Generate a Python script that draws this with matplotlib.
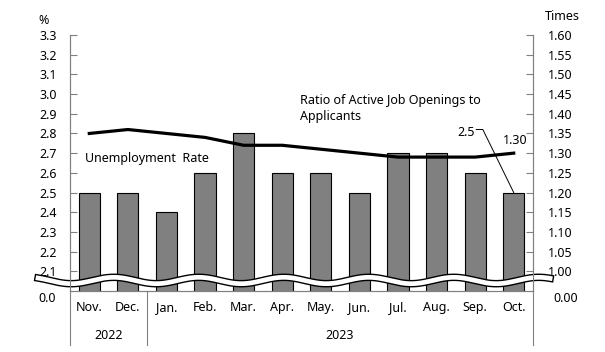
import numpy as np
import matplotlib.pyplot as plt
from matplotlib.lines import Line2D

months = ['Nov.', 'Dec.', 'Jan.', 'Feb.', 'Mar.', 'Apr.', 'May.', 'Jun.', 'Jul.', 'Aug.', 'Sep.', 'Oct.']
years = ['2022', '2023']
unemp = [2.5, 2.5, 2.4, 2.6, 2.8, 2.6, 2.6, 2.5, 2.7, 2.7, 2.6, 2.5]
ratio = [1.35, 1.36, 1.35, 1.34, 1.32, 1.32, 1.31, 1.30, 1.29, 1.29, 1.29, 1.30]
left_ticks = [2.1, 2.2, 2.3, 2.4, 2.5, 2.6, 2.7, 2.8, 2.9, 3.0, 3.1, 3.2, 3.3]
right_ticks = [1.00, 1.05, 1.10, 1.15, 1.20, 1.25, 1.30, 1.35, 1.40, 1.45, 1.50, 1.55, 1.60]

plt.rcParams['font.family'] = 'Noto Sans'
plt.rcParams['font.size'] = 9
gray = '#808080'

fig = plt.figure(figsize=(6.05, 3.52), dpi=100)
ax = fig.add_axes([70/605, 1 - 291/352, 463/605, 256/352])
x = np.arange(len(months))

ax.bar(x, unemp, width=0.55, bottom=0, color='#808080', edgecolor='black', linewidth=0.8, zorder=2)
ax.set_xlim(-0.5, len(months) - 0.5)
ax.set_ylim(2.0, 3.3)
ax.set_yticks(left_ticks)
ax.set_yticklabels(['%.1f' % v for v in left_ticks])
ax.set_xticks([])
ax.spines['top'].set_visible(False)
for s in ['left', 'right', 'bottom']:
    ax.spines[s].set_color(gray)
ax.tick_params(axis='y', direction='in', length=5, color=gray, pad=9.5)

ax2 = ax.twinx()
ax2.plot(x, ratio, color='black', lw=2.3, zorder=3)
ax2.set_ylim(0.95, 1.60)
ax2.set_yticks(right_ticks)
ax2.set_yticklabels(['%.2f' % v for v in right_ticks])
ax2.spines['top'].set_visible(False)
for s in ['left', 'right', 'bottom']:
    ax2.spines[s].set_color(gray)
ax2.tick_params(axis='y', direction='in', length=5, color=gray, pad=10.5)

# zero labels below the break
ax.text(-0.03, -0.028, '0.0', transform=ax.transAxes, ha='right', va='center')
ax2.text(1.045, -0.028, '0.00', transform=ax.transAxes, ha='left', va='center')

# axis break wave
xs = np.linspace(-0.069, 1.037, 400)
xpix = xs * 463
ys = (291 - 280.5 - 3.2 * np.sin(2 * np.pi * (xpix + 20) / 85)) / 256
for lw, c in [(5.4, 'black'), (3.4, 'white')]:
    ax.add_line(Line2D(xs, ys, transform=ax.transAxes, color=c, lw=lw, clip_on=False, zorder=5))

# category axis
for i, m in enumerate(months):
    ax.text(i, -0.066, m, transform=ax.get_xaxis_transform(), ha='center', va='center')
ax.text(0.5, -0.172, years[0], transform=ax.get_xaxis_transform(), ha='center', va='center')
ax.text(6.5, -0.172, years[1], transform=ax.get_xaxis_transform(), ha='center', va='center')
for xv in [0, 2 / 12, 1]:
    ax.add_line(Line2D([xv, xv], [0, -0.211], transform=ax.transAxes, color=gray, lw=0.8, clip_on=False))

# labels
ax.text(-0.11, 2.675, 'Unemployment  Rate', va='center', ha='left')
ax.text(5.46, 3.0, 'Ratio of Active Job Openings to\nApplicants', va='top', ha='left', linespacing=1.3)
ax.text(9.99, 2.807, '2.5', ha='right', va='center')
ax.plot([10.03, 10.2, 11.0], [2.82, 2.82, 2.5], color='black', lw=0.7, zorder=4)
ax2.text(11.03, 1.331, '1.30', ha='center', va='center')

fig.text(38/605, 1 - 20/352, '%', ha='left', va='center')
fig.text(545/605, 1 - 17/352, 'Times', ha='left', va='center')

fig.savefig('out.png', dpi=100)
